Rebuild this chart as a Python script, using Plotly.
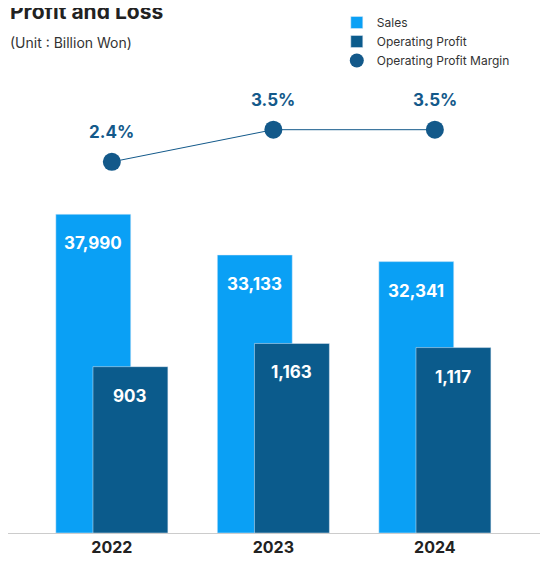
import plotly.graph_objects as go

years = ["2022", "2023", "2024"]
sales = [37990, 33133, 32341]
op_profit = [903, 1163, 1117]
margin = [2.4, 3.5, 3.5]

C_SALES = "#0aa0f5"
C_OP = "#0b5b8c"
C_LINE = "#13598a"
xs = list(range(len(years)))
off = 0.115
W = 0.464
OP_MIN = -960

fig = go.Figure()
fig.add_bar(x=[x - off for x in xs], y=sales, width=W, marker_color=C_SALES, name="Sales", yaxis="y")
fig.add_bar(x=[x + off for x in xs], y=[v - OP_MIN for v in op_profit], base=OP_MIN, width=W,
            marker_color=C_OP, name="Operating Profit", yaxis="y2")
fig.add_scatter(x=xs, y=margin, mode="lines+markers", line=dict(color=C_LINE, width=1),
                marker=dict(size=18, color=C_LINE), showlegend=False, yaxis="y3")
fig.add_scatter(x=[None], y=[None], mode="markers", marker=dict(size=14, color=C_LINE),
                name="Operating Profit Margin", yaxis="y3")

ann = []
f_in = dict(color="white", size=17, family="Inter")
for x, v in zip(xs, sales):
    ann.append(dict(x=x - off, y=v, yref="y", text=f"<b>{v:,}</b>", showarrow=False, yshift=-29, font=f_in, xref="x"))
for x, v in zip(xs, op_profit):
    ann.append(dict(x=x + off, y=v, yref="y2", text=f"<b>{v:,}</b>", showarrow=False, yshift=-29, font=f_in, xref="x"))
for x, v in zip(xs, margin):
    ann.append(dict(x=x, y=v, yref="y3", text=f"<b>{v}%</b>", showarrow=False, yshift=30,
                    font=dict(color=C_LINE, size=17, family="Inter"), xref="x"))
ann.append(dict(x=0, y=1, xref="paper", yref="paper", xanchor="left", yanchor="top", yshift=78,
                text="<b>Profit and Loss</b>", showarrow=False, font=dict(size=21, color="#222", family="Inter")))
ann.append(dict(x=0, y=1, xref="paper", yref="paper", xanchor="left", yanchor="top", yshift=43,
                text="(Unit : Billion Won)", showarrow=False, font=dict(size=14, color="#333", family="Inter")))

fig.update_layout(
    width=548, height=572, margin=dict(l=0, r=0, t=60, b=47),
    paper_bgcolor="white", plot_bgcolor="white", barmode="overlay", showlegend=True,
    legend=dict(x=0.6, y=1.0, yref="container", xanchor="left", yanchor="top",
                font=dict(size=12, color="#333", family="Inter"), tracegroupgap=0, itemwidth=30),
    font=dict(family="Inter"),
    xaxis=dict(range=[-0.643, 2.75], tickvals=xs, ticktext=[f"<b>{y}</b>" for y in years],
               tickfont=dict(size=16, color="#222"), showgrid=False, showline=True, linecolor="#ccc",
               zeroline=False, ticks=""),
    yaxis=dict(range=[0, 54580], visible=False, showgrid=False),
    yaxis2=dict(range=[OP_MIN, 4170], overlaying="y", visible=False, showgrid=False),
    yaxis3=dict(range=[-10.29, 5.37], overlaying="y", visible=False, showgrid=False),
    annotations=ann,
)
fig.write_html("out.html")
